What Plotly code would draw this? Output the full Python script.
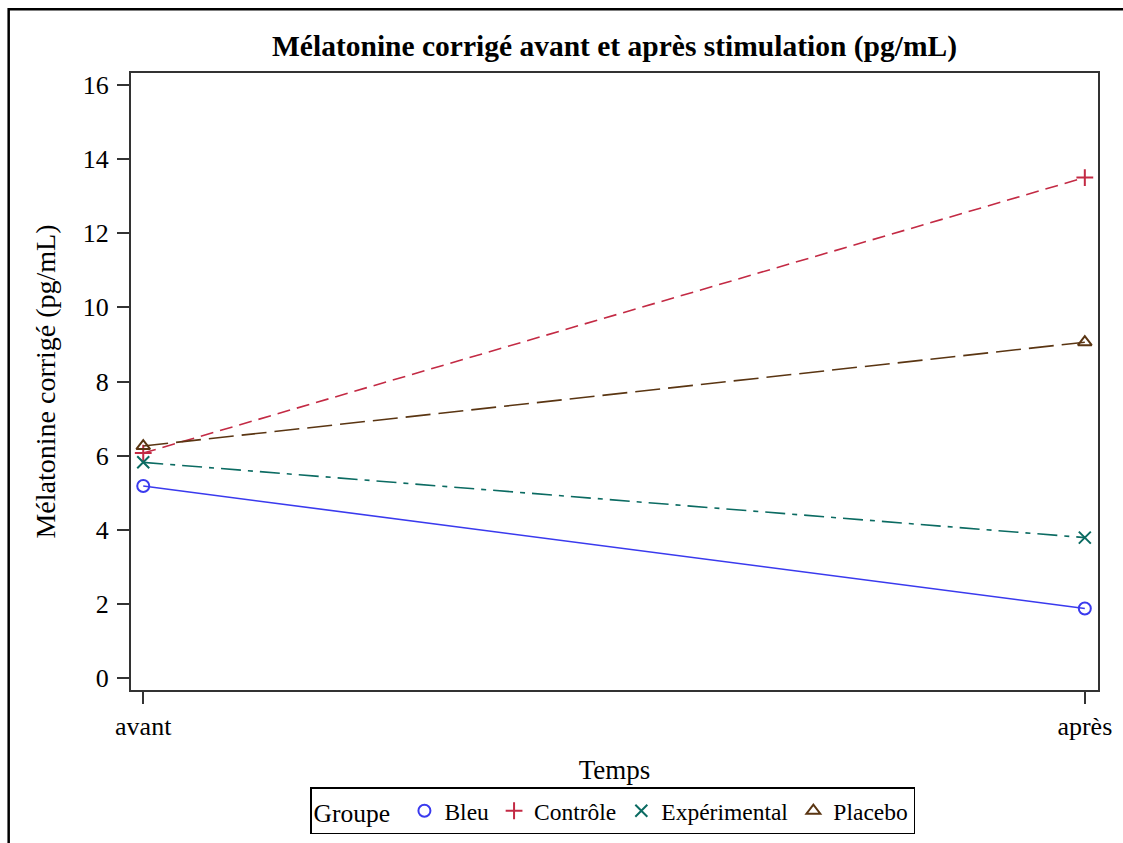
import plotly.graph_objects as go

# Measurement times and group means (pg/mL)
temps = ["avant", "après"]
groupes = ["Bleu", "Contrôle", "Expérimental", "Placebo"]
bleu = [5.18, 1.88]
controle = [6.07, 13.5]
experimental = [5.82, 3.79]
placebo = [6.26, 9.06]

series = [bleu, controle, experimental, placebo]
couleurs = ["#3A3AEE", "#C32A44", "#0B6B62", "#5A3512"]
symboles = ["circle-open", "cross-thin-open", "x-thin-open", "triangle-up-open"]
tirets = ["solid", "13px,7px", "20px,7px,5px,7px", "25px,8px"]

FONT = "Liberation Serif, Times New Roman, serif"

fig = go.Figure()
for nom, vals, c, s, d in zip(groupes, series, couleurs, symboles, tirets):
    # connecting line (kept out of the legend)
    fig.add_trace(go.Scatter(
        x=[0, 1], y=vals, mode="lines", showlegend=False, hoverinfo="skip",
        line=dict(color=c, width=1.6, dash=d),
    ))
    # group markers, shown in the legend
    fig.add_trace(go.Scatter(
        x=[0, 1], y=vals, name=nom, mode="markers",
        marker=dict(symbol=s, size=12, color=c, line=dict(color=c, width=2)),
    ))

fig.update_layout(
    width=1123, height=843,
    margin=dict(l=131, r=25, t=73, b=153, autoexpand=False),
    paper_bgcolor="white", plot_bgcolor="white",
    font=dict(family=FONT, color="black", size=24),
    title=dict(text="<b>Mélatonine corrigé avant et après stimulation (pg/mL)</b>",
               x=0.5, xref="paper", xanchor="center", y=0.946, yanchor="middle",
               font=dict(family=FONT, size=29.5)),
    showlegend=True,
    legend=dict(
        orientation="h", x=0.498, xanchor="center", y=-0.158, yanchor="top",
        bordercolor="black", borderwidth=1.5, bgcolor="white",
        font=dict(family=FONT, size=23.5),
        title=dict(text="Groupe ", font=dict(family=FONT, size=25.5)),
        itemsizing="constant", itemwidth=30, tracegroupgap=0,
    ),
)

fig.update_xaxes(
    range=[-0.013, 1.014], tickvals=[0, 1], ticktext=temps,
    showgrid=False, zeroline=False, automargin=False,
    showline=True, linecolor="#333333", linewidth=2, mirror=True,
    ticks="outside", ticklen=12, tickwidth=1.5, tickcolor="#333333",
    ticklabelstandoff=0,
    tickfont=dict(family=FONT, size=26),
    title=dict(text="Temps", font=dict(family=FONT, size=27), standoff=20),
)
fig.update_yaxes(
    range=[-0.32, 16.32], tickvals=list(range(0, 17, 2)),
    showgrid=False, zeroline=False, automargin=False,
    showline=True, linecolor="#333333", linewidth=2, mirror=True,
    ticks="outside", ticklen=12, tickwidth=1.5, tickcolor="#333333",
    ticklabelstandoff=3,
    tickfont=dict(family=FONT, size=26),
    title=dict(text="Mélatonine corrigé (pg/mL)", font=dict(family=FONT, size=28), standoff=19),
)

# Outer frame around the whole graphic
fig.add_shape(type="rect", xref="paper", yref="paper",
              x0=-0.1265, x1=1.5, y0=-1.0, y1=1.1035,
              line=dict(color="black", width=2.5), layer="below")

fig.write_html("out.html")
